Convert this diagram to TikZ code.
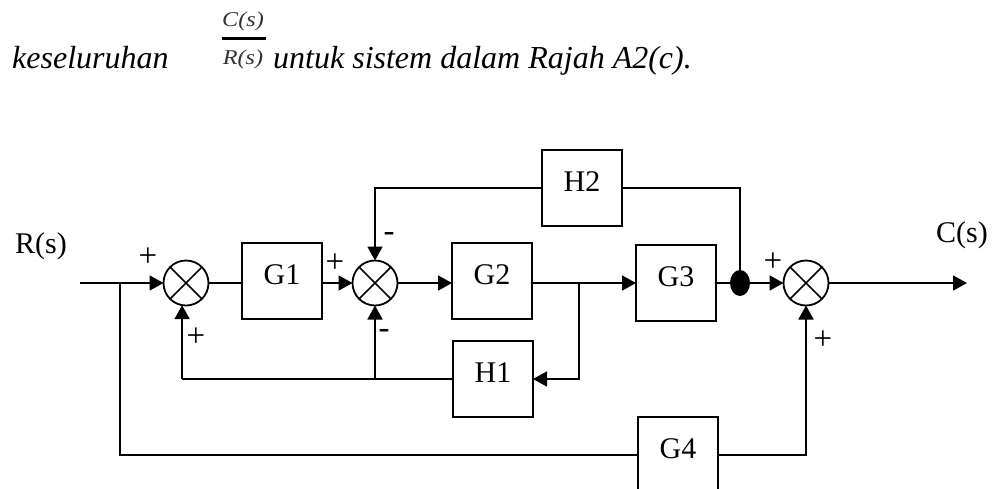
\documentclass[tikz,border=0pt]{standalone}
\usepackage{fontspec}
\setmainfont{Liberation Serif}
\usetikzlibrary{arrows.meta,shapes.geometric,calc}
\definecolor{fracgray}{RGB}{50,50,50}
\begin{document}
\begin{tikzpicture}[x=1pt,y=-1pt,
  blk/.style={draw, line width=1.4pt, minimum width=80pt, minimum height=76pt, inner sep=0pt, outer sep=0pt, text height=20pt, text depth=14pt, font=\fontsize{30}{30}\selectfont},
  sumj/.style={draw, circle, line width=1.8pt, minimum size=45pt, inner sep=0pt, outer sep=0pt},
  ln/.style={line width=1.8pt},
  arr/.style={ln, -{Triangle[length=14pt,width=15pt]}},
  sgn/.style={font=\fontsize{33}{33}\selectfont, inner sep=0pt},
  lbl/.style={font=\fontsize{30}{30}\selectfont, inner sep=0pt},
  txt/.style={font=\fontsize{32}{32}\selectfont\itshape, inner sep=0pt, anchor=base west},
  frac/.style={font=\fontsize{21}{21}\selectfont\itshape, text=fracgray, inner sep=0pt}]
\useasboundingbox (0,0) rectangle (998,488);
% heading text
\node[txt] (t1) at (12,68) {keseluruhan};
\node[txt] (t2) at (273,68) {untuk sistem dalam Rajah A2(c).};
\node[frac] (fc) at (243,21) {\scalebox{1.15}[1]{C(s)}};
\coordinate (fbl) at (222,38.5);
\coordinate (fbr) at (266,38.5);
\draw[line width=3pt] (fbl) -- (fbr);
\node[frac] (fr) at (243,59) {\scalebox{1.15}[1]{R(s)}};
% labels
\node[lbl] (rs) at (41,246) {R(s)};
\node[lbl] (cs) at (962,235) {C(s)};
% blocks
\coordinate (in) at (80,283);
\coordinate (bin) at (120,283);
\node[sumj] (s1) at (186,283) {};
\node[blk] (g1) at (282,281) {G1};
\node[sumj] (s2) at (375,283) {};
\node[blk] (g2) at (492,281) {G2};
\coordinate (br) at (579,283);
\node[blk] (g3) at (676,283) {G3};
\node[ellipse, fill, minimum width=20pt, minimum height=26pt, inner sep=0pt, outer sep=0pt] (dot) at (740,283) {};
\node[sumj] (s3) at (806,283) {};
\coordinate (out) at (967,283);
\node[blk] (h2) at (582,188) {H2};
\node[blk] (h1) at (493,379) {H1};
\node[blk] (g4) at (678,455) {G4};
% crosses
\foreach \s in {s1,s2,s3}
  \draw[line width=1.6pt] (\s.north west) -- (\s.south east) (\s.north east) -- (\s.south west);
% connectors
\draw[arr] (in) -- (s1.west);
\draw[ln] (s1.east) -- (s1.east -| g1.west);
\draw[arr] (g1.east |- s2.west) -- (s2.west);
\draw[arr] (s2.east) -- (s2.east -| g2.west);
\draw[arr] (g2.east |- g3.west) -- (g3.west);
\draw[ln] (g3.east) -- (dot.west);
\draw[arr] (dot.east) -- (s3.west);
\draw[arr] (s3.east) -- (out);
\draw[ln] (dot.north) |- (h2.east);
\draw[arr] (h2.west) -| (s2.north);
\draw[arr] (br) |- (h1.east);
\draw[ln] (h1.west) -- (h1.west -| s1.260);
\draw[arr] (h1.west -| s1.260) -- (s1.260);
\draw[arr] (h1.west -| s2.south) -- (s2.south);
\draw[ln] (bin) |- (g4.west);
\draw[arr] (g4.east) -| (s3.south);
% signs
\node[sgn] (p1) at (148,257) {+};
\node[sgn] (p2) at (196,337) {+};
\node[sgn] (p3) at (335,263) {+};
\node[sgn] (m1) at (389,237) {-};
\node[sgn] (m2) at (384,334) {-};
\node[sgn] (p4) at (773,262) {+};
\node[sgn] (p5) at (823,340) {+};
\end{tikzpicture}
\end{document}
